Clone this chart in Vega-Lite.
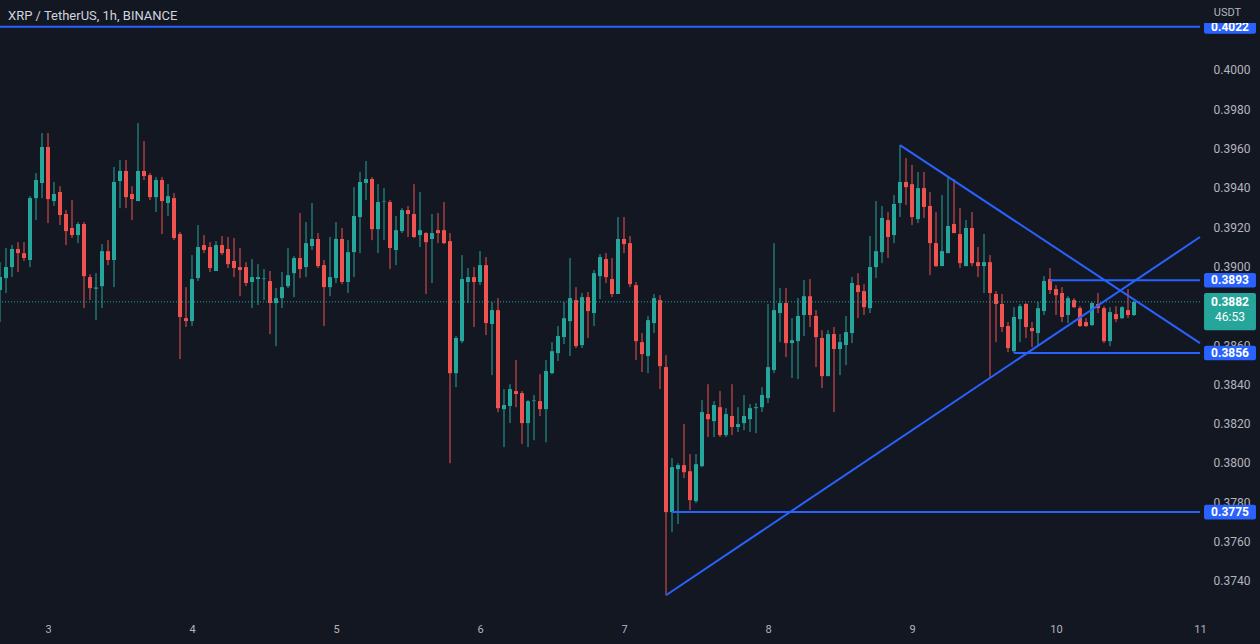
{
"$schema": "https://vega.github.io/schema/vega-lite/v6.json",
"width": 1200,
"height": 612,
"autosize": {"type": "none"},
"padding": {"left": 0, "top": 0, "right": 60, "bottom": 32},
"background": "#131722",
"config": {"view": {"stroke": null}, "scale": {"continuousPadding": 0}},
"datasets": {
"candles": [
{"t":-8,"o":0.38880,"c":0.38946,"hi":0.39022,"lo":0.38717},
{"t":-7,"o":0.38941,"c":0.38997,"hi":0.39094,"lo":0.38865},
{"t":-6,"o":0.38997,"c":0.39089,"hi":0.39109,"lo":0.38946},
{"t":-5,"o":0.39089,"c":0.39068,"hi":0.39124,"lo":0.38972},
{"t":-4,"o":0.39068,"c":0.39043,"hi":0.39124,"lo":0.39028},
{"t":-3,"o":0.39033,"c":0.39348,"hi":0.39358,"lo":0.38997},
{"t":-2,"o":0.39348,"c":0.39440,"hi":0.39475,"lo":0.39236},
{"t":-1,"o":0.39425,"c":0.39608,"hi":0.39679,"lo":0.39348},
{"t":0,"o":0.39608,"c":0.39343,"hi":0.39679,"lo":0.39221},
{"t":1,"o":0.39333,"c":0.39369,"hi":0.39430,"lo":0.39308},
{"t":2,"o":0.39379,"c":0.39262,"hi":0.39409,"lo":0.39211},
{"t":3,"o":0.39267,"c":0.39180,"hi":0.39287,"lo":0.39109},
{"t":4,"o":0.39196,"c":0.39160,"hi":0.39338,"lo":0.39145},
{"t":5,"o":0.39160,"c":0.39216,"hi":0.39226,"lo":0.39119},
{"t":6,"o":0.39216,"c":0.38951,"hi":0.39226,"lo":0.38788},
{"t":7,"o":0.38946,"c":0.38890,"hi":0.38961,"lo":0.38829},
{"t":8,"o":0.38887,"c":0.38893,"hi":0.38966,"lo":0.38727},
{"t":9,"o":0.38900,"c":0.39078,"hi":0.39114,"lo":0.38788},
{"t":10,"o":0.39078,"c":0.39033,"hi":0.39134,"lo":0.39007},
{"t":11,"o":0.39033,"c":0.39430,"hi":0.39506,"lo":0.38895},
{"t":12,"o":0.39435,"c":0.39486,"hi":0.39542,"lo":0.39297},
{"t":13,"o":0.39486,"c":0.39353,"hi":0.39542,"lo":0.39297},
{"t":14,"o":0.39369,"c":0.39343,"hi":0.39409,"lo":0.39236},
{"t":15,"o":0.39333,"c":0.39486,"hi":0.39730,"lo":0.39333},
{"t":16,"o":0.39486,"c":0.39460,"hi":0.39638,"lo":0.39440},
{"t":17,"o":0.39465,"c":0.39353,"hi":0.39475,"lo":0.39338},
{"t":18,"o":0.39353,"c":0.39440,"hi":0.39455,"lo":0.39277},
{"t":19,"o":0.39440,"c":0.39333,"hi":0.39455,"lo":0.39165},
{"t":20,"o":0.39323,"c":0.39358,"hi":0.39419,"lo":0.39257},
{"t":21,"o":0.39348,"c":0.39145,"hi":0.39374,"lo":0.39134},
{"t":22,"o":0.39165,"c":0.38743,"hi":0.39175,"lo":0.38529},
{"t":23,"o":0.38737,"c":0.38722,"hi":0.38895,"lo":0.38692},
{"t":24,"o":0.38722,"c":0.38936,"hi":0.39058,"lo":0.38697},
{"t":25,"o":0.38941,"c":0.39099,"hi":0.39211,"lo":0.38926},
{"t":26,"o":0.39109,"c":0.39084,"hi":0.39160,"lo":0.39068},
{"t":27,"o":0.39099,"c":0.38992,"hi":0.39124,"lo":0.38972},
{"t":28,"o":0.38977,"c":0.39109,"hi":0.39129,"lo":0.38977},
{"t":29,"o":0.39109,"c":0.39068,"hi":0.39155,"lo":0.39058},
{"t":30,"o":0.39089,"c":0.39012,"hi":0.39150,"lo":0.38992},
{"t":31,"o":0.39028,"c":0.38992,"hi":0.39145,"lo":0.38946},
{"t":32,"o":0.38997,"c":0.38982,"hi":0.39094,"lo":0.38849},
{"t":33,"o":0.38997,"c":0.38916,"hi":0.39022,"lo":0.38900},
{"t":34,"o":0.38921,"c":0.38946,"hi":0.39038,"lo":0.38788},
{"t":35,"o":0.38936,"c":0.38946,"hi":0.39012,"lo":0.38804},
{"t":36,"o":0.38936,"c":0.38939,"hi":0.38987,"lo":0.38829},
{"t":37,"o":0.38926,"c":0.38814,"hi":0.38977,"lo":0.38656},
{"t":38,"o":0.38814,"c":0.38839,"hi":0.38890,"lo":0.38595},
{"t":39,"o":0.38839,"c":0.38895,"hi":0.38972,"lo":0.38788},
{"t":40,"o":0.38900,"c":0.38956,"hi":0.39094,"lo":0.38890},
{"t":41,"o":0.38966,"c":0.39043,"hi":0.39053,"lo":0.38844},
{"t":42,"o":0.39043,"c":0.38987,"hi":0.39272,"lo":0.38941},
{"t":43,"o":0.38997,"c":0.39119,"hi":0.39226,"lo":0.38946},
{"t":44,"o":0.39104,"c":0.39140,"hi":0.39323,"lo":0.39084},
{"t":45,"o":0.39140,"c":0.39002,"hi":0.39170,"lo":0.38992},
{"t":46,"o":0.39007,"c":0.38895,"hi":0.39033,"lo":0.38697},
{"t":47,"o":0.38895,"c":0.38946,"hi":0.39150,"lo":0.38849},
{"t":48,"o":0.38941,"c":0.39140,"hi":0.39226,"lo":0.38916},
{"t":49,"o":0.39140,"c":0.38921,"hi":0.39196,"lo":0.38910},
{"t":50,"o":0.38921,"c":0.39073,"hi":0.39134,"lo":0.38865},
{"t":51,"o":0.39073,"c":0.39257,"hi":0.39404,"lo":0.38946},
{"t":52,"o":0.39252,"c":0.39430,"hi":0.39481,"lo":0.39068},
{"t":53,"o":0.39425,"c":0.39445,"hi":0.39537,"lo":0.39338},
{"t":54,"o":0.39445,"c":0.39190,"hi":0.39455,"lo":0.39134},
{"t":55,"o":0.39190,"c":0.39328,"hi":0.39419,"lo":0.39068},
{"t":56,"o":0.39328,"c":0.39331,"hi":0.39399,"lo":0.39134},
{"t":57,"o":0.39328,"c":0.39094,"hi":0.39338,"lo":0.38987},
{"t":58,"o":0.39084,"c":0.39185,"hi":0.39257,"lo":0.39007},
{"t":59,"o":0.39180,"c":0.39287,"hi":0.39297,"lo":0.39170},
{"t":60,"o":0.39287,"c":0.39267,"hi":0.39308,"lo":0.39150},
{"t":61,"o":0.39267,"c":0.39150,"hi":0.39419,"lo":0.39145},
{"t":62,"o":0.39160,"c":0.39185,"hi":0.39379,"lo":0.39099},
{"t":63,"o":0.39170,"c":0.39124,"hi":0.39175,"lo":0.38860},
{"t":64,"o":0.39140,"c":0.39170,"hi":0.39267,"lo":0.38916},
{"t":65,"o":0.39185,"c":0.39170,"hi":0.39272,"lo":0.39119},
{"t":66,"o":0.39185,"c":0.39119,"hi":0.39328,"lo":0.39114},
{"t":67,"o":0.39129,"c":0.38457,"hi":0.39170,"lo":0.37999},
{"t":68,"o":0.38457,"c":0.38636,"hi":0.38646,"lo":0.38386},
{"t":69,"o":0.38620,"c":0.38936,"hi":0.39058,"lo":0.38610},
{"t":70,"o":0.38921,"c":0.38946,"hi":0.38992,"lo":0.38814},
{"t":71,"o":0.38946,"c":0.38921,"hi":0.38997,"lo":0.38692},
{"t":72,"o":0.38921,"c":0.39007,"hi":0.39078,"lo":0.38905},
{"t":73,"o":0.39007,"c":0.38712,"hi":0.39048,"lo":0.38651},
{"t":74,"o":0.38707,"c":0.38778,"hi":0.38819,"lo":0.38447},
{"t":75,"o":0.38778,"c":0.38279,"hi":0.38839,"lo":0.38259},
{"t":76,"o":0.38274,"c":0.38295,"hi":0.38376,"lo":0.38081},
{"t":77,"o":0.38290,"c":0.38376,"hi":0.38401,"lo":0.38203},
{"t":78,"o":0.38366,"c":0.38351,"hi":0.38524,"lo":0.38284},
{"t":79,"o":0.38356,"c":0.38203,"hi":0.38366,"lo":0.38096},
{"t":80,"o":0.38203,"c":0.38315,"hi":0.38320,"lo":0.38081},
{"t":81,"o":0.38315,"c":0.38318,"hi":0.38346,"lo":0.38116},
{"t":82,"o":0.38315,"c":0.38274,"hi":0.38452,"lo":0.38239},
{"t":83,"o":0.38274,"c":0.38468,"hi":0.38524,"lo":0.38105},
{"t":84,"o":0.38457,"c":0.38569,"hi":0.38615,"lo":0.38452},
{"t":85,"o":0.38559,"c":0.38646,"hi":0.38697,"lo":0.38519},
{"t":86,"o":0.38641,"c":0.38737,"hi":0.38819,"lo":0.38605},
{"t":87,"o":0.38722,"c":0.38839,"hi":0.39043,"lo":0.38544},
{"t":88,"o":0.38829,"c":0.38595,"hi":0.38895,"lo":0.38585},
{"t":89,"o":0.38600,"c":0.38844,"hi":0.38865,"lo":0.38585},
{"t":90,"o":0.38844,"c":0.38773,"hi":0.38870,"lo":0.38636},
{"t":91,"o":0.38763,"c":0.38966,"hi":0.38982,"lo":0.38697},
{"t":92,"o":0.38951,"c":0.39048,"hi":0.39063,"lo":0.38834},
{"t":93,"o":0.39038,"c":0.38946,"hi":0.39068,"lo":0.38916},
{"t":94,"o":0.38936,"c":0.38860,"hi":0.39043,"lo":0.38844},
{"t":95,"o":0.38860,"c":0.39140,"hi":0.39252,"lo":0.38860},
{"t":96,"o":0.39140,"c":0.39114,"hi":0.39252,"lo":0.39068},
{"t":97,"o":0.39119,"c":0.38910,"hi":0.39155,"lo":0.38895},
{"t":98,"o":0.38905,"c":0.38620,"hi":0.38921,"lo":0.38524},
{"t":99,"o":0.38615,"c":0.38554,"hi":0.38661,"lo":0.38463},
{"t":100,"o":0.38544,"c":0.38727,"hi":0.38748,"lo":0.38457},
{"t":101,"o":0.38712,"c":0.38839,"hi":0.38860,"lo":0.38661},
{"t":102,"o":0.38829,"c":0.38493,"hi":0.38854,"lo":0.38376},
{"t":103,"o":0.38488,"c":0.37750,"hi":0.38549,"lo":0.37327},
{"t":104,"o":0.37750,"c":0.37979,"hi":0.38025,"lo":0.37648},
{"t":105,"o":0.37969,"c":0.37989,"hi":0.37999,"lo":0.37689},
{"t":106,"o":0.37989,"c":0.37953,"hi":0.38198,"lo":0.37923},
{"t":107,"o":0.37958,"c":0.37811,"hi":0.38045,"lo":0.37760},
{"t":108,"o":0.37806,"c":0.37994,"hi":0.38045,"lo":0.37796},
{"t":109,"o":0.37984,"c":0.38259,"hi":0.38320,"lo":0.37979},
{"t":110,"o":0.38249,"c":0.38223,"hi":0.38401,"lo":0.38132},
{"t":111,"o":0.38213,"c":0.38295,"hi":0.38315,"lo":0.38132},
{"t":112,"o":0.38284,"c":0.38142,"hi":0.38366,"lo":0.38132},
{"t":113,"o":0.38142,"c":0.38249,"hi":0.38279,"lo":0.38132},
{"t":114,"o":0.38239,"c":0.38183,"hi":0.38401,"lo":0.38142},
{"t":115,"o":0.38183,"c":0.38198,"hi":0.38284,"lo":0.38157},
{"t":116,"o":0.38203,"c":0.38239,"hi":0.38346,"lo":0.38167},
{"t":117,"o":0.38223,"c":0.38279,"hi":0.38300,"lo":0.38157},
{"t":118,"o":0.38279,"c":0.38284,"hi":0.38305,"lo":0.38152},
{"t":119,"o":0.38284,"c":0.38346,"hi":0.38386,"lo":0.38259},
{"t":120,"o":0.38330,"c":0.38488,"hi":0.38809,"lo":0.38305},
{"t":121,"o":0.38473,"c":0.38778,"hi":0.39119,"lo":0.38457},
{"t":122,"o":0.38763,"c":0.38814,"hi":0.38890,"lo":0.38615},
{"t":123,"o":0.38814,"c":0.38610,"hi":0.38890,"lo":0.38539},
{"t":124,"o":0.38610,"c":0.38625,"hi":0.38737,"lo":0.38432},
{"t":125,"o":0.38620,"c":0.38748,"hi":0.38839,"lo":0.38427},
{"t":126,"o":0.38753,"c":0.38849,"hi":0.38931,"lo":0.38646},
{"t":127,"o":0.38849,"c":0.38753,"hi":0.38936,"lo":0.38692},
{"t":128,"o":0.38748,"c":0.38641,"hi":0.38778,"lo":0.38488},
{"t":129,"o":0.38636,"c":0.38442,"hi":0.38676,"lo":0.38381},
{"t":130,"o":0.38442,"c":0.38656,"hi":0.38676,"lo":0.38442},
{"t":131,"o":0.38656,"c":0.38580,"hi":0.38692,"lo":0.38259},
{"t":132,"o":0.38580,"c":0.38615,"hi":0.38656,"lo":0.38447},
{"t":133,"o":0.38600,"c":0.38666,"hi":0.38748,"lo":0.38498},
{"t":134,"o":0.38661,"c":0.38916,"hi":0.38946,"lo":0.38610},
{"t":135,"o":0.38905,"c":0.38870,"hi":0.38966,"lo":0.38737},
{"t":136,"o":0.38875,"c":0.38793,"hi":0.38910,"lo":0.38753},
{"t":137,"o":0.38788,"c":0.38997,"hi":0.39155,"lo":0.38763},
{"t":138,"o":0.38997,"c":0.39078,"hi":0.39333,"lo":0.38941},
{"t":139,"o":0.39073,"c":0.39247,"hi":0.39308,"lo":0.39017},
{"t":140,"o":0.39236,"c":0.39150,"hi":0.39277,"lo":0.39043},
{"t":141,"o":0.39160,"c":0.39318,"hi":0.39364,"lo":0.39119},
{"t":142,"o":0.39323,"c":0.39430,"hi":0.39618,"lo":0.39252},
{"t":143,"o":0.39430,"c":0.39404,"hi":0.39552,"lo":0.39313},
{"t":144,"o":0.39419,"c":0.39252,"hi":0.39517,"lo":0.39211},
{"t":145,"o":0.39241,"c":0.39399,"hi":0.39481,"lo":0.39221},
{"t":146,"o":0.39399,"c":0.39303,"hi":0.39481,"lo":0.39247},
{"t":147,"o":0.39308,"c":0.39119,"hi":0.39379,"lo":0.38956},
{"t":148,"o":0.39119,"c":0.39002,"hi":0.39277,"lo":0.38997},
{"t":149,"o":0.39002,"c":0.39078,"hi":0.39364,"lo":0.39002},
{"t":150,"o":0.39068,"c":0.39206,"hi":0.39455,"lo":0.39068},
{"t":151,"o":0.39216,"c":0.39170,"hi":0.39445,"lo":0.39170},
{"t":152,"o":0.39165,"c":0.39017,"hi":0.39297,"lo":0.38992},
{"t":153,"o":0.39002,"c":0.39196,"hi":0.39236,"lo":0.39002},
{"t":154,"o":0.39196,"c":0.39017,"hi":0.39277,"lo":0.39002},
{"t":155,"o":0.39022,"c":0.39002,"hi":0.39099,"lo":0.38946},
{"t":156,"o":0.39002,"c":0.39022,"hi":0.39165,"lo":0.38865},
{"t":157,"o":0.39022,"c":0.38865,"hi":0.39058,"lo":0.38432},
{"t":158,"o":0.38860,"c":0.38809,"hi":0.38875,"lo":0.38615},
{"t":159,"o":0.38809,"c":0.38692,"hi":0.38860,"lo":0.38666},
{"t":160,"o":0.38697,"c":0.38585,"hi":0.38717,"lo":0.38564},
{"t":161,"o":0.38569,"c":0.38743,"hi":0.38793,"lo":0.38560},
{"t":162,"o":0.38732,"c":0.38798,"hi":0.38809,"lo":0.38615},
{"t":163,"o":0.38809,"c":0.38692,"hi":0.38814,"lo":0.38636},
{"t":164,"o":0.38687,"c":0.38671,"hi":0.38717,"lo":0.38590},
{"t":165,"o":0.38661,"c":0.38788,"hi":0.38819,"lo":0.38600},
{"t":166,"o":0.38773,"c":0.38926,"hi":0.38951,"lo":0.38753},
{"t":167,"o":0.38936,"c":0.38880,"hi":0.38992,"lo":0.38860},
{"t":168,"o":0.38885,"c":0.38854,"hi":0.38905,"lo":0.38753},
{"t":169,"o":0.38865,"c":0.38743,"hi":0.38895,"lo":0.38717},
{"t":170,"o":0.38753,"c":0.38839,"hi":0.38849,"lo":0.38712},
{"t":171,"o":0.38829,"c":0.38793,"hi":0.38839,"lo":0.38788},
{"t":172,"o":0.38788,"c":0.38697,"hi":0.38798,"lo":0.38692},
{"t":173,"o":0.38717,"c":0.38697,"hi":0.38737,"lo":0.38692},
{"t":174,"o":0.38702,"c":0.38814,"hi":0.38819,"lo":0.38697},
{"t":175,"o":0.38809,"c":0.38788,"hi":0.38865,"lo":0.38763},
{"t":176,"o":0.38788,"c":0.38620,"hi":0.38798,"lo":0.38610},
{"t":177,"o":0.38620,"c":0.38768,"hi":0.38793,"lo":0.38595},
{"t":178,"o":0.38758,"c":0.38732,"hi":0.38798,"lo":0.38717},
{"t":179,"o":0.38737,"c":0.38793,"hi":0.38798,"lo":0.38732},
{"t":180,"o":0.38778,"c":0.38753,"hi":0.38885,"lo":0.38737},
{"t":181,"o":0.38753,"c":0.38820,"hi":0.38824,"lo":0.38748}
],
"segs": [
{"g":"a","t":-8,"p":0.4022},{"g":"a","t":192,"p":0.4022},
{"g":"b","t":104,"p":0.3775},{"g":"b","t":192,"p":0.3775},
{"g":"c","t":167,"p":0.3893},{"g":"c","t":192,"p":0.3893},
{"g":"d","t":161,"p":0.3856},{"g":"d","t":192,"p":0.3856},
{"g":"e","t":103,"p":0.37327},{"g":"e","t":192,"p":0.3915},
{"g":"f","t":142,"p":0.39618},{"g":"f","t":192,"p":0.3861}
],
"boxes": [
{"t1":192.67,"t2":201.33,"p1":0.40185,"p2":0.40255,"col":"#2962ff"},
{"t1":192.67,"t2":201.33,"p1":0.38893,"p2":0.38967,"col":"#2962ff"},
{"t1":192.67,"t2":201.33,"p1":0.38676,"p2":0.38865,"col":"#26a69a"},
{"t1":192.67,"t2":201.33,"p1":0.38523,"p2":0.38597,"col":"#2962ff"},
{"t1":192.67,"t2":201.33,"p1":0.37713,"p2":0.37787,"col":"#2962ff"}
],
"tags": [
{"t":197,"p":0.4022,"s":"0.4022"},
{"t":197,"p":0.3893,"s":"0.3893"},
{"t":197,"p":0.3882,"s":"0.3882"},
{"t":197,"p":0.3856,"s":"0.3856"},
{"t":197,"p":0.3775,"s":"0.3775"}
],
"notes": [
{"t":197,"p":0.38743,"s":"46:53"}
],
"cover": [
{"t1":192.2,"t2":215,"p1":0.40239,"p2":0.4045}
],
"heads": [
{"t":194.3,"p":0.4029,"s":"USDT","col":"#b2b5be","size":11},
{"t":-6.67,"p":0.40275,"s":"XRP / TetherUS, 1h, BINANCE","col":"#d1d4dc","size":13}
]
},
"layer": [
{
"data": {"name": "candles"},
"mark": {"type": "rule", "strokeWidth": 1},
"encoding": {
"x": {"field": "t", "type": "quantitative", "title": null, "scale": {"domain": [-8, 192], "nice": false, "zero": false, "padding": 0},
 "axis": {"values": [0,24,48,72,96,120,144,168,192], "labelExpr": "format(datum.value/24+3, 'd')", "title": null, "grid": false, "ticks": false, "domain": false, "labelColor": "#b2b5be", "labelFont": "Roboto", "labelFontSize": 11, "labelPadding": 11, "labelFlush": false, "labelOverlap": false}},
"y": {"field": "lo", "type": "quantitative", "title": null, "scale": {"domain": [0.372417, 0.403562], "nice": false, "zero": false, "padding": 0},
 "axis": {"orient": "right", "values": [0.374,0.376,0.378,0.38,0.382,0.384,0.386,0.39,0.392,0.394,0.396,0.398,0.4], "format": ".4f", "title": null, "grid": false, "ticks": false, "domain": false, "labelColor": "#b2b5be", "labelFont": "Roboto", "labelFontSize": 12, "labelPadding": 13, "labelFlush": false, "labelOverlap": false}},
"y2": {"field": "hi"},
"color": {"condition": {"test": "datum.c >= datum.o", "value": "#26a69a"}, "value": "#ef5350"}
}
},
{
"data": {"name": "candles"},
"mark": {"type": "bar", "width": 4},
"encoding": {
"x": {"field": "t", "type": "quantitative", "title": null, "scale": {"domain": [-8, 192], "nice": false, "zero": false, "padding": 0}},
"y": {"field": "o", "type": "quantitative", "title": null, "scale": {"domain": [0.372417, 0.403562], "nice": false, "zero": false, "padding": 0}},
"y2": {"field": "c"},
"color": {"condition": {"test": "datum.c >= datum.o", "value": "#26a69a"}, "value": "#ef5350"}
}
},
{
"data": {"values": [{"p": 0.3882}]},
"mark": {"type": "rule", "strokeWidth": 1, "strokeDash": [1, 2], "color": "#26a69a"},
"encoding": {
"y": {"field": "p", "type": "quantitative", "title": null, "scale": {"domain": [0.372417, 0.403562], "nice": false, "zero": false, "padding": 0}}
}
},
{
"data": {"name": "segs"},
"mark": {"type": "line", "strokeWidth": 2, "color": "#2962ff"},
"encoding": {
"x": {"field": "t", "type": "quantitative", "title": null, "scale": {"domain": [-8, 192], "nice": false, "zero": false, "padding": 0}},
"y": {"field": "p", "type": "quantitative", "title": null, "scale": {"domain": [0.372417, 0.403562], "nice": false, "zero": false, "padding": 0}},
"detail": {"field": "g", "type": "nominal"}
}
},
{
"data": {"name": "boxes"},
"mark": {"type": "rect", "cornerRadius": 2},
"encoding": {
"x": {"field": "t1", "type": "quantitative", "title": null, "scale": {"domain": [-8, 192], "nice": false, "zero": false, "padding": 0}},
"x2": {"field": "t2"},
"y": {"field": "p1", "type": "quantitative", "title": null, "scale": {"domain": [0.372417, 0.403562], "nice": false, "zero": false, "padding": 0}},
"y2": {"field": "p2"},
"color": {"field": "col", "type": "nominal", "scale": null}
}
},
{
"data": {"name": "tags"},
"mark": {"type": "text", "font": "Roboto", "fontSize": 12, "fontWeight": "bold", "color": "#ffffff", "align": "center", "baseline": "middle"},
"encoding": {
"x": {"field": "t", "type": "quantitative", "title": null, "scale": {"domain": [-8, 192], "nice": false, "zero": false, "padding": 0}},
"y": {"field": "p", "type": "quantitative", "title": null, "scale": {"domain": [0.372417, 0.403562], "nice": false, "zero": false, "padding": 0}},
"text": {"field": "s"}
}
},
{
"data": {"name": "notes"},
"mark": {"type": "text", "font": "Roboto", "fontSize": 12, "color": "#ffffff", "align": "center", "baseline": "middle"},
"encoding": {
"x": {"field": "t", "type": "quantitative", "title": null, "scale": {"domain": [-8, 192], "nice": false, "zero": false, "padding": 0}},
"y": {"field": "p", "type": "quantitative", "title": null, "scale": {"domain": [0.372417, 0.403562], "nice": false, "zero": false, "padding": 0}},
"text": {"field": "s"}
}
},
{
"data": {"name": "cover"},
"mark": {"type": "rect", "color": "#131722"},
"encoding": {
"x": {"field": "t1", "type": "quantitative", "title": null, "scale": {"domain": [-8, 192], "nice": false, "zero": false, "padding": 0}},
"x2": {"field": "t2"},
"y": {"field": "p1", "type": "quantitative", "title": null, "scale": {"domain": [0.372417, 0.403562], "nice": false, "zero": false, "padding": 0}},
"y2": {"field": "p2"}
}
},
{
"data": {"name": "heads"},
"mark": {"type": "text", "font": "Roboto", "align": "left", "baseline": "middle"},
"encoding": {
"x": {"field": "t", "type": "quantitative", "title": null, "scale": {"domain": [-8, 192], "nice": false, "zero": false, "padding": 0}},
"y": {"field": "p", "type": "quantitative", "title": null, "scale": {"domain": [0.372417, 0.403562], "nice": false, "zero": false, "padding": 0}},
"text": {"field": "s"},
"color": {"field": "col", "type": "nominal", "scale": null},
"size": {"field": "size", "type": "quantitative", "scale": null}
}
}
]
}
